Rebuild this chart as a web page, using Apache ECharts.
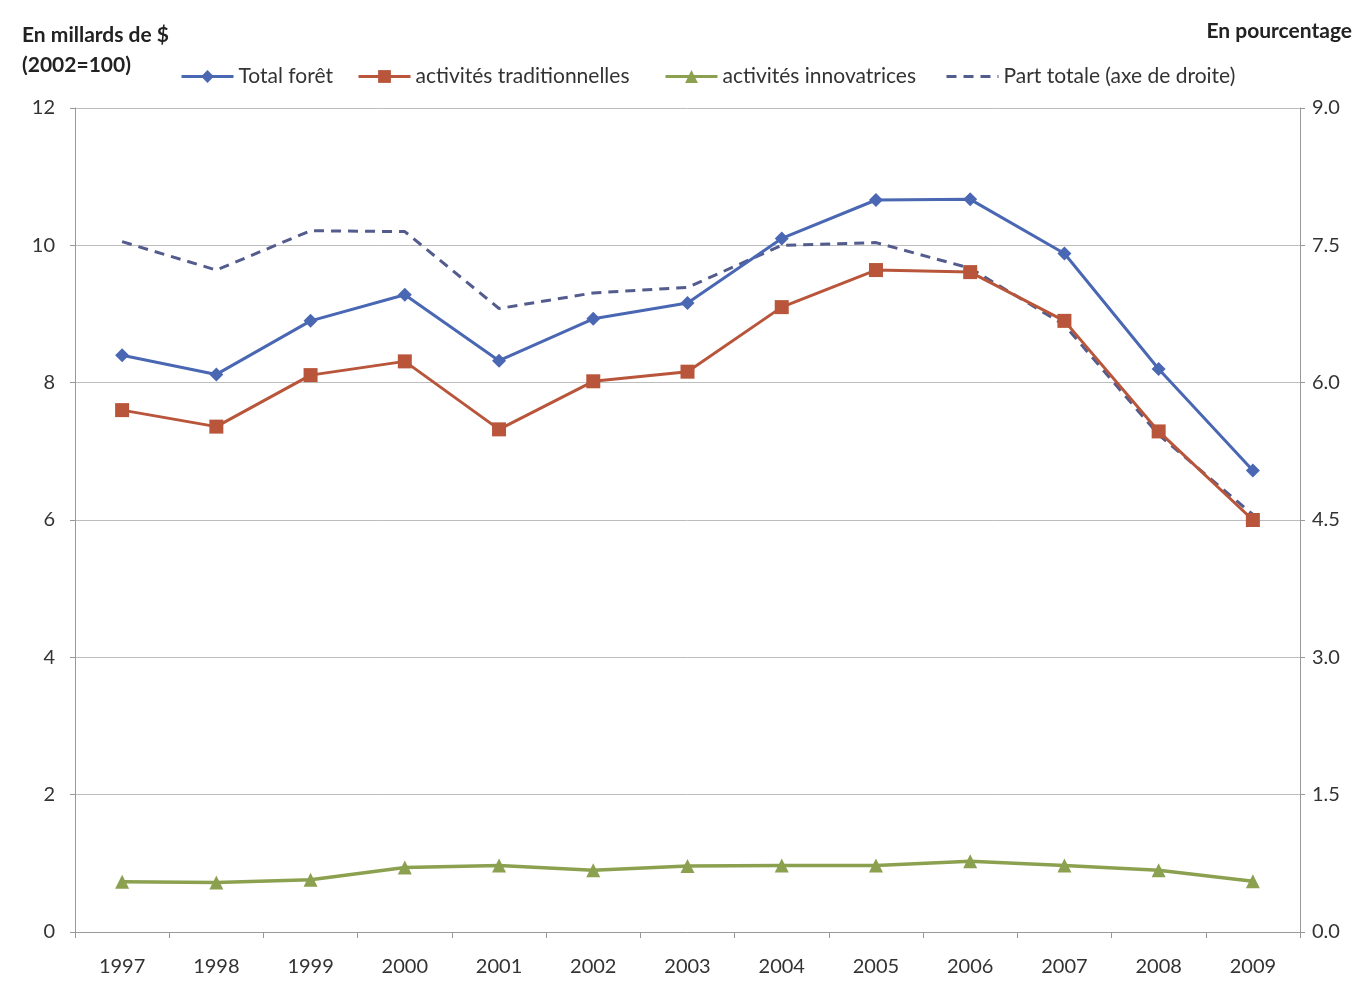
<!DOCTYPE html>
<html>
<head>
<meta charset="utf-8">
<script src="https://cdn.jsdelivr.net/npm/echarts@6/dist/echarts.min.js"></script>
<style>
    html, body { margin: 0; padding: 0; background: #fff; }
    #chart { width: 1359px; height: 986px; }
</style>
</head>
<body>
<div id="chart"></div>
<script>
// annees
const years = ['1997', '1998', '1999', '2000', '2001', '2002', '2003', '2004', '2005', '2006', '2007', '2008', '2009'];

// en milliards de $ (axe de gauche)
const totalForet = [8.40, 8.12, 8.90, 9.28, 8.32, 8.93, 9.16, 10.10, 10.66, 10.67, 9.88, 8.20, 6.72];
const traditionnelles = [7.60, 7.36, 8.11, 8.31, 7.32, 8.02, 8.16, 9.10, 9.64, 9.61, 8.90, 7.29, 6.00];
const innovatrices = [0.73, 0.72, 0.76, 0.94, 0.97, 0.90, 0.96, 0.97, 0.97, 1.03, 0.97, 0.90, 0.74];

// en pourcentage (axe de droite)
const partTotale = [7.54, 7.23, 7.66, 7.65, 6.81, 6.98, 7.04, 7.50, 7.53, 7.25, 6.63, 5.43, 4.56];

const font = 'Lato';
const txt = '#333';

let chart = echarts.init(document.getElementById('chart'));

function legendAt(left, item) {
    return {
        left: left,
        top: 66,
        padding: 0,
        itemWidth: 52,
        itemHeight: 16,
        itemGap: 0,
        data: [item],
        lineStyle: { width: 3 },
        textStyle: { fontFamily: font, fontSize: 21, color: txt }
    };
}

chart.setOption({
    animation: false,
    backgroundColor: '#fff',
    textStyle: { fontFamily: font },
    graphic: [
        { type: 'text', left: 22, top: 25, style: { text: 'En millards de $', font: 'bold 21px ' + font, fill: '#222' } },
        { type: 'text', left: 22, top: 55, style: { text: '(2002=100)', font: 'bold 21px ' + font, fill: '#222' } },
        { type: 'text', right: 7, top: 21, style: { text: 'En pourcentage', font: 'bold 21px ' + font, fill: '#222' } }
    ],
    legend: [
        legendAt(180, 'Total forêt'),
        legendAt(357, 'activités traditionnelles'),
        legendAt(664, 'activités innovatrices'),
        legendAt(945, { name: 'Part totale (axe de droite)', itemStyle: { opacity: 0 } })
    ],
    grid: { left: 75, right: 59, top: 108, bottom: 54 },
    xAxis: {
        type: 'category',
        data: years,
        boundaryGap: true,
        axisLine: { lineStyle: { color: '#999' } },
        axisTick: { show: true, length: 6, lineStyle: { color: '#999' } },
        axisLabel: { color: txt, fontSize: 20, fontFamily: font, margin: 25 }
    },
    yAxis: [
        {
            type: 'value',
            min: 0,
            max: 12,
            interval: 2,
            axisLine: { show: true, lineStyle: { color: '#999' } },
            axisTick: { show: true, length: 5, lineStyle: { color: '#999' } },
            axisLabel: { color: txt, fontSize: 20, fontFamily: font, margin: 20 },
            splitLine: { lineStyle: { color: '#bdbdbd' } }
        },
        {
            type: 'value',
            min: 0,
            max: 9,
            interval: 1.5,
            position: 'right',
            axisLine: { show: true, lineStyle: { color: '#999' } },
            axisTick: { show: true, length: 5, lineStyle: { color: '#999' } },
            axisLabel: {
                color: txt, fontSize: 20, fontFamily: font, margin: 12,
                formatter: v => v.toFixed(1)
            },
            splitLine: { show: false }
        }
    ],
    series: [
        {
            name: 'Total forêt',
            type: 'line',
            data: totalForet,
            symbol: 'diamond',
            symbolSize: 14,
            itemStyle: { color: '#4a67b3' },
            lineStyle: { width: 3, color: '#4a67b3' },
            z: 4
        },
        {
            name: 'activités traditionnelles',
            type: 'line',
            data: traditionnelles,
            symbol: 'rect',
            symbolSize: 14,
            itemStyle: { color: '#b8553a' },
            lineStyle: { width: 3, color: '#b8553a' },
            z: 3
        },
        {
            name: 'activités innovatrices',
            type: 'line',
            data: innovatrices,
            symbol: 'triangle',
            symbolSize: 14,
            itemStyle: { color: '#8ba150' },
            lineStyle: { width: 3.5, color: '#8ba150' },
            z: 3
        },
        {
            name: 'Part totale (axe de droite)',
            type: 'line',
            yAxisIndex: 1,
            data: partTotale,
            symbol: 'none',
            itemStyle: { color: '#535c8c' },
            lineStyle: { width: 3, color: '#535c8c', type: [10, 7] },
            z: 2
        }
    ]
});
</script>
</body>
</html>
